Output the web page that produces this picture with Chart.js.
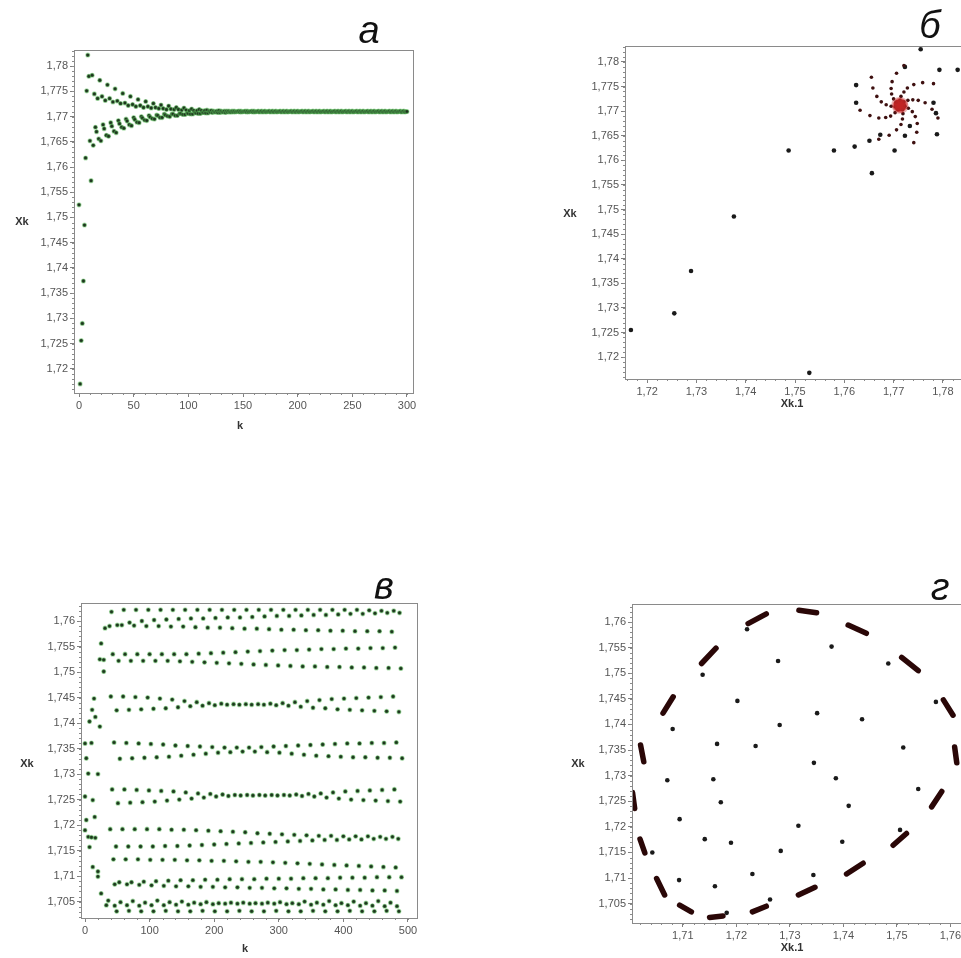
<!DOCTYPE html>
<html>
<head>
<meta charset="utf-8">
<script src="https://cdn.jsdelivr.net/npm/chart.js@4.4.1/dist/chart.umd.min.js"></script>
<style>
  html, body { margin: 0; padding: 0; background: #fff; overflow: hidden; }
  body { width: 961px; height: 958px; position: relative; font-family: "Liberation Sans", Arial, sans-serif; }
  .panel { position: absolute; }
  .panel canvas { position: absolute; left: 0; top: 0; }
  .tag { position: absolute; font-size: 38px; font-style: italic; line-height: 38px; color: #111; transform: translateX(-50%); }
  .lab { position: absolute; font-size: 11px; font-weight: bold; color: #333; transform: translate(-50%, -50%); white-space: nowrap; }
</style>
</head>
<body>
<div class="panel" style="left:0;top:0;width:430px;height:440px"><canvas id="cA" width="430" height="440"></canvas></div>
<div class="panel" style="left:560px;top:0;width:420px;height:440px"><canvas id="cB" width="420" height="440"></canvas></div>
<div class="panel" style="left:0;top:560px;width:430px;height:398px"><canvas id="cV" width="430" height="398"></canvas></div>
<div class="panel" style="left:560px;top:560px;width:420px;height:398px"><canvas id="cG" width="420" height="398"></canvas></div>

<div class="tag" style="left:369px;top:11px">а</div>
<div class="tag" style="left:930px;top:6px">б</div>
<div class="tag" style="left:384px;top:567px">в</div>
<div class="tag" style="left:940px;top:568px">г</div>

<div class="lab" style="left:22px;top:221px">Xk</div>
<div class="lab" style="left:240px;top:425px">k</div>
<div class="lab" style="left:570px;top:213px">Xk</div>
<div class="lab" style="left:792px;top:403px">Xk.1</div>
<div class="lab" style="left:27px;top:763px">Xk</div>
<div class="lab" style="left:245px;top:948px">k</div>
<div class="lab" style="left:578px;top:763px">Xk</div>
<div class="lab" style="left:792px;top:947px">Xk.1</div>

<script>
// panel а: Xk for k = 0..300 (index is k)
const xk = [
  1.7525, 1.7170, 1.7256, 1.7290, 1.7374, 1.7485, 1.7618, 1.7751, 1.7822, 1.7780,
  1.7652, 1.7573, 1.7782, 1.7643, 1.7745, 1.7679, 1.7670, 1.7736, 1.7656, 1.7772,
  1.7652, 1.7740, 1.7684, 1.7676, 1.7732, 1.7663, 1.7763, 1.7661, 1.7736, 1.7688,
  1.7681, 1.7729, 1.7671, 1.7755, 1.7668, 1.7731, 1.7692, 1.7686, 1.7726, 1.7679,
  1.7746, 1.7677, 1.7727, 1.7695, 1.7691, 1.7722, 1.7684, 1.7740, 1.7682, 1.7724,
  1.7698, 1.7694, 1.7720, 1.7689, 1.7734, 1.7688, 1.7722, 1.7700, 1.7697, 1.7718,
  1.7693, 1.7730, 1.7692, 1.7720, 1.7702, 1.7699, 1.7717, 1.7696, 1.7726, 1.7695,
  1.7718, 1.7703, 1.7702, 1.7716, 1.7698, 1.7723, 1.7698, 1.7716, 1.7705, 1.7703,
  1.7714, 1.7701, 1.7721, 1.7700, 1.7715, 1.7705, 1.7705, 1.7714, 1.7702, 1.7718,
  1.7702, 1.7714, 1.7706, 1.7706, 1.7713, 1.7704, 1.7717, 1.7704, 1.7713, 1.7707,
  1.7706, 1.7712, 1.7705, 1.7715, 1.7705, 1.7712, 1.7708, 1.7707, 1.7712, 1.7706,
  1.7714, 1.7706, 1.7712, 1.7708, 1.7708, 1.7712, 1.7707, 1.7713, 1.7707, 1.7711,
  1.7709, 1.7712, 1.7708, 1.7711, 1.7709, 1.7709, 1.7711, 1.7708, 1.7712, 1.7708,
  1.7711, 1.7709, 1.7709, 1.7711, 1.7708, 1.7711, 1.7709, 1.7711, 1.7709, 1.7709,
  1.7711, 1.7709, 1.7711, 1.7709, 1.7710, 1.7710, 1.7711, 1.7709, 1.7711, 1.7709,
  1.7710, 1.7710, 1.7711, 1.7709, 1.7711, 1.7709, 1.7710, 1.7710, 1.7711, 1.7709,
  1.7711, 1.7709, 1.7710, 1.7710, 1.7711, 1.7709, 1.7710, 1.7711, 1.7709, 1.7710,
  1.7711, 1.7709, 1.7710, 1.7710, 1.7711, 1.7709, 1.7710, 1.7711, 1.7709, 1.7710,
  1.7711, 1.7709, 1.7710, 1.7710, 1.7711, 1.7709, 1.7710, 1.7711, 1.7709, 1.7710,
  1.7711, 1.7709, 1.7710, 1.7710, 1.7711, 1.7709, 1.7710, 1.7711, 1.7709, 1.7710,
  1.7711, 1.7709, 1.7710, 1.7710, 1.7711, 1.7709, 1.7710, 1.7711, 1.7709, 1.7710,
  1.7711, 1.7709, 1.7710, 1.7710, 1.7711, 1.7709, 1.7710, 1.7711, 1.7709, 1.7710,
  1.7711, 1.7709, 1.7710, 1.7710, 1.7711, 1.7709, 1.7710, 1.7711, 1.7709, 1.7710,
  1.7711, 1.7709, 1.7710, 1.7710, 1.7711, 1.7709, 1.7710, 1.7711, 1.7709, 1.7710,
  1.7711, 1.7709, 1.7710, 1.7710, 1.7711, 1.7709, 1.7710, 1.7711, 1.7709, 1.7710,
  1.7711, 1.7709, 1.7710, 1.7710, 1.7711, 1.7709, 1.7710, 1.7711, 1.7709, 1.7710,
  1.7711, 1.7709, 1.7710, 1.7710, 1.7711, 1.7709, 1.7710, 1.7711, 1.7709, 1.7710,
  1.7711, 1.7709, 1.7710, 1.7710, 1.7711, 1.7709, 1.7710, 1.7711, 1.7709, 1.7710,
  1.7711, 1.7709, 1.7710, 1.7710, 1.7711, 1.7709, 1.7710, 1.7711, 1.7709, 1.7710,
  1.7711, 1.7709, 1.7710, 1.7710, 1.7711, 1.7709, 1.7710, 1.7711, 1.7709, 1.7710,
  1.7710
];

// panel б: Xk against Xk-1, loose points
const bx = [1.7167, 1.7255, 1.7289, 1.7376, 1.7487, 1.7529, 1.7579, 1.7621, 1.7656, 1.7651, 1.7673, 1.7702,
  1.7723, 1.7733, 1.7788, 1.7624, 1.7624, 1.7755, 1.7723, 1.7793, 1.7830, 1.7786, 1.7781];
const by = [1.7255, 1.7289, 1.7375, 1.7486, 1.7620, 1.7168, 1.7620, 1.7628, 1.7574, 1.7640, 1.7652, 1.7620,
  1.7650, 1.7670, 1.7653, 1.7753, 1.7717, 1.7826, 1.7790, 1.7784, 1.7784, 1.7696, 1.7717];
// spiral arms
const armX = [
  1.7632, 1.7652, 1.7670, 1.7684, 1.7694, 1.7703, 1.7709,
  1.7670, 1.7691, 1.7706, 1.7715, 1.7718, 1.7719, 1.7718,
  1.7741, 1.7747, 1.7748, 1.7744, 1.7738, 1.7730, 1.7723,
  1.7790, 1.7778, 1.7764, 1.7750, 1.7739, 1.7729, 1.7721,
  1.7781, 1.7759, 1.7741, 1.7728, 1.7721, 1.7715, 1.7713,
  1.7721, 1.7706, 1.7697, 1.7695, 1.7696, 1.7700, 1.7705,
  1.7655, 1.7658, 1.7666, 1.7675, 1.7685, 1.7695, 1.7703
];
const armY = [
  1.7702, 1.7691, 1.7686, 1.7687, 1.7690, 1.7697, 1.7703,
  1.7643, 1.7651, 1.7662, 1.7673, 1.7684, 1.7695, 1.7703,
  1.7636, 1.7657, 1.7675, 1.7689, 1.7699, 1.7706, 1.7710,
  1.7686, 1.7704, 1.7717, 1.7722, 1.7723, 1.7722, 1.7719,
  1.7756, 1.7758, 1.7754, 1.7747, 1.7739, 1.7730, 1.7722,
  1.7793, 1.7777, 1.7760, 1.7746, 1.7735, 1.7725, 1.7718,
  1.7769, 1.7747, 1.7730, 1.7719, 1.7713, 1.7710, 1.7709
];
const coreX = [1.7713, 1.7716, 1.7710, 1.7711, 1.7715];
const coreY = [1.7712, 1.7710, 1.7714, 1.7709, 1.7714];

// panel в: rows of the quasi-periodic orbit, one value per visit
const row1 = [1.7618, 1.7622, 1.7622, 1.7622, 1.7622, 1.7622, 1.7622, 1.7622, 1.7622, 1.7622, 1.7622, 1.7622, 1.7622, 1.7622, 1.7622, 1.7622, 1.7622, 1.7622, 1.7622, 1.7622, 1.7622, 1.7621, 1.7620, 1.7620];
const row2 = [1.7592, 1.7597, 1.7600, 1.7602, 1.7603, 1.7604, 1.7605, 1.7605, 1.7606, 1.7607, 1.7607, 1.7608, 1.7609, 1.7610, 1.7610, 1.7611, 1.7612, 1.7612, 1.7613, 1.7614, 1.7614, 1.7615, 1.7616, 1.7616];
const row3 = [1.7590, 1.7592, 1.7591, 1.7590, 1.7590, 1.7589, 1.7589, 1.7588, 1.7587, 1.7587, 1.7586, 1.7585, 1.7585, 1.7584, 1.7583, 1.7583, 1.7582, 1.7582, 1.7581, 1.7581, 1.7580, 1.7580, 1.7580, 1.7579];
const row4 = [1.7535, 1.7535, 1.7535, 1.7535, 1.7535, 1.7535, 1.7535, 1.7536, 1.7537, 1.7538, 1.7539, 1.7540, 1.7541, 1.7542, 1.7543, 1.7543, 1.7544, 1.7545, 1.7545, 1.7546, 1.7546, 1.7547, 1.7547, 1.7548];
const row5 = [1.7522, 1.7522, 1.7522, 1.7522, 1.7522, 1.7521, 1.7520, 1.7519, 1.7518, 1.7517, 1.7516, 1.7515, 1.7514, 1.7513, 1.7512, 1.7511, 1.7511, 1.7510, 1.7510, 1.7509, 1.7509, 1.7508, 1.7508, 1.7507];
const row6 = [1.7452, 1.7452, 1.7451, 1.7450, 1.7448, 1.7446, 1.7443, 1.7441, 1.7439, 1.7438, 1.7437, 1.7437, 1.7437, 1.7438, 1.7439, 1.7441, 1.7443, 1.7445, 1.7447, 1.7448, 1.7449, 1.7450, 1.7451, 1.7452];
const row7 = [1.7425, 1.7426, 1.7427, 1.7428, 1.7429, 1.7431, 1.7433, 1.7434, 1.7435, 1.7436, 1.7436, 1.7436, 1.7436, 1.7435, 1.7434, 1.7432, 1.7430, 1.7429, 1.7427, 1.7426, 1.7425, 1.7424, 1.7423, 1.7422];
const row8 = [1.7362, 1.7361, 1.7360, 1.7359, 1.7358, 1.7356, 1.7355, 1.7354, 1.7353, 1.7352, 1.7352, 1.7352, 1.7353, 1.7354, 1.7355, 1.7356, 1.7357, 1.7358, 1.7359, 1.7360, 1.7360, 1.7361, 1.7361, 1.7362];
const row9 = [1.7330, 1.7331, 1.7332, 1.7333, 1.7334, 1.7336, 1.7338, 1.7340, 1.7342, 1.7343, 1.7344, 1.7344, 1.7343, 1.7342, 1.7340, 1.7338, 1.7336, 1.7335, 1.7334, 1.7333, 1.7333, 1.7332, 1.7332, 1.7331];
const row10 = [1.7270, 1.7270, 1.7269, 1.7268, 1.7267, 1.7266, 1.7264, 1.7262, 1.7261, 1.7260, 1.7259, 1.7259, 1.7259, 1.7259, 1.7259, 1.7260, 1.7261, 1.7262, 1.7264, 1.7266, 1.7267, 1.7268, 1.7269, 1.7270];
const row11 = [1.7243, 1.7244, 1.7245, 1.7246, 1.7248, 1.7250, 1.7252, 1.7254, 1.7256, 1.7257, 1.7258, 1.7258, 1.7258, 1.7258, 1.7258, 1.7257, 1.7256, 1.7254, 1.7252, 1.7250, 1.7249, 1.7248, 1.7247, 1.7246];
const row12 = [1.7192, 1.7192, 1.7192, 1.7192, 1.7192, 1.7191, 1.7191, 1.7190, 1.7189, 1.7188, 1.7187, 1.7186, 1.7184, 1.7183, 1.7182, 1.7181, 1.7180, 1.7179, 1.7179, 1.7178, 1.7178, 1.7178, 1.7177, 1.7177];
const row13 = [1.7158, 1.7158, 1.7158, 1.7158, 1.7159, 1.7159, 1.7160, 1.7161, 1.7162, 1.7163, 1.7164, 1.7165, 1.7166, 1.7167, 1.7168, 1.7169, 1.7170, 1.7171, 1.7171, 1.7172, 1.7172, 1.7173, 1.7173, 1.7173];
const row14 = [1.7133, 1.7133, 1.7133, 1.7132, 1.7132, 1.7132, 1.7131, 1.7131, 1.7130, 1.7130, 1.7129, 1.7128, 1.7128, 1.7127, 1.7126, 1.7125, 1.7124, 1.7123, 1.7122, 1.7121, 1.7120, 1.7119, 1.7118, 1.7117];
const row15 = [1.7088, 1.7088, 1.7089, 1.7090, 1.7091, 1.7092, 1.7092, 1.7093, 1.7093, 1.7094, 1.7094, 1.7094, 1.7095, 1.7095, 1.7095, 1.7096, 1.7096, 1.7096, 1.7097, 1.7097, 1.7097, 1.7098, 1.7098, 1.7098];
const row16 = [1.7084, 1.7084, 1.7083, 1.7082, 1.7081, 1.7080, 1.7080, 1.7079, 1.7079, 1.7078, 1.7078, 1.7077, 1.7077, 1.7076, 1.7076, 1.7075, 1.7075, 1.7074, 1.7074, 1.7073, 1.7073, 1.7072, 1.7072, 1.7071];
const row17 = [1.7052, 1.7049, 1.7051, 1.7048, 1.7052, 1.7049, 1.7050, 1.7048, 1.7049, 1.7047, 1.7048, 1.7048, 1.7047, 1.7048, 1.7049, 1.7047, 1.7050, 1.7048, 1.7051, 1.7047, 1.7050, 1.7047, 1.7051, 1.7048];
const row18 = [1.7042, 1.7043, 1.7042, 1.7043, 1.7043, 1.7044, 1.7044, 1.7045, 1.7045, 1.7046, 1.7046, 1.7046, 1.7046, 1.7046, 1.7045, 1.7045, 1.7044, 1.7044, 1.7043, 1.7043, 1.7042, 1.7042, 1.7041, 1.7041];
const row19 = [1.7031, 1.7032, 1.7031, 1.7031, 1.7032, 1.7031, 1.7031, 1.7032, 1.7031, 1.7031, 1.7032, 1.7031, 1.7031, 1.7032, 1.7031, 1.7031, 1.7032, 1.7031, 1.7031, 1.7032, 1.7031, 1.7031, 1.7032, 1.7031];
// first k of each row, and the k offsets of its visits
const rowStart = [41, 50, 38, 43, 52, 40, 49, 45, 54, 42, 51, 39, 48, 44, 53, 46, 36, 46, 49];
const visitK = [0, 19, 38, 57, 76, 95, 114, 133, 152, 171, 190, 209, 228, 247, 266, 285, 304, 323, 342, 361, 380, 399, 418, 437];
// transient before the orbit settles
const vtK = [0, 0, 0, 2, 2, 5, 5, 7, 7, 10, 10, 11, 12, 12, 14, 15, 16, 16, 20, 20, 20, 23, 23, 25, 25, 29, 29, 31, 33];
const vtY = [1.7360, 1.7256, 1.7190, 1.7331, 1.7210, 1.7301, 1.7177, 1.7403, 1.7157, 1.7361, 1.7176, 1.7426, 1.7249, 1.7118,
  1.7448, 1.7216, 1.7412, 1.7175, 1.7300, 1.7109, 1.7099, 1.7525, 1.7393, 1.7556, 1.7066, 1.7524, 1.7501, 1.7586, 1.7043];

// panel г: dashes of the invariant circle (start / end)
const gx0 = [1.7222, 1.7317, 1.7409, 1.7509, 1.7587, 1.7608, 1.7584, 1.7518, 1.7437, 1.7347, 1.7256, 1.7175, 1.7116, 1.7066, 1.7029, 1.7010, 1.7027, 1.7082, 1.7162];
const gy0 = [1.7597, 1.7623, 1.7594, 1.7531, 1.7448, 1.7356, 1.7269, 1.7187, 1.7129, 1.7082, 1.7045, 1.7026, 1.7034, 1.7067, 1.7149, 1.7236, 1.7327, 1.7454, 1.7549];
const gx1 = [1.7256, 1.7350, 1.7443, 1.7540, 1.7605, 1.7612, 1.7565, 1.7493, 1.7406, 1.7316, 1.7230, 1.7150, 1.7094, 1.7051, 1.7020, 1.7006, 1.7021, 1.7063, 1.7135];
const gy1 = [1.7616, 1.7618, 1.7578, 1.7505, 1.7418, 1.7325, 1.7239, 1.7164, 1.7108, 1.7067, 1.7034, 1.7023, 1.7047, 1.7099, 1.7176, 1.7267, 1.7360, 1.7422, 1.7519];
// inner points
const gdx = [1.7220, 1.7378, 1.7278, 1.7484, 1.7137, 1.7573, 1.7202, 1.7351, 1.7435, 1.7081, 1.7281, 1.7164, 1.7236, 1.7512,
  1.7345, 1.7071, 1.7157, 1.7386, 1.7540, 1.7171, 1.7410, 1.7094, 1.7316, 1.7506, 1.7141, 1.7190, 1.7398, 1.7283, 1.7043,
  1.7093, 1.7230, 1.7344, 1.7160, 1.7263, 1.7182];
const gdy = [1.7586, 1.7552, 1.7524, 1.7519, 1.7497, 1.7444, 1.7446, 1.7422, 1.7410, 1.7391, 1.7399, 1.7362, 1.7358, 1.7355,
  1.7325, 1.7291, 1.7293, 1.7295, 1.7274, 1.7248, 1.7241, 1.7215, 1.7202, 1.7194, 1.7176, 1.7169, 1.7171, 1.7153, 1.7150,
  1.7096, 1.7108, 1.7106, 1.7084, 1.7058, 1.7032];

// build point lists
const aPts = xk.map((v, k) => ({ x: k, y: v }));
const bPts = bx.map((v, i) => ({ x: v, y: by[i] }));
const armPts = armX.map((v, i) => ({ x: v, y: armY[i] }));
const corePts = coreX.map((v, i) => ({ x: v, y: coreY[i] }));
const vRows = [row1, row2, row3, row4, row5, row6, row7, row8, row9, row10, row11, row12, row13, row14, row15, row16, row17, row18, row19];
const vPts = vtK.map((k, i) => ({ x: k, y: vtY[i] }));
vRows.forEach((row, r) => row.forEach((y, i) => vPts.push({ x: rowStart[r] + visitK[i], y: y })));
const gPts = gdx.map((v, i) => ({ x: v, y: gdy[i] }));

const fmt = v => String(+(+v).toFixed(4)).replace('.', ',');

function axis(min, max, step, size, isY) {
  return {
    type: 'linear', min: min, max: max,
    ticks: {
      stepSize: step, includeBounds: false, autoSkip: false, maxRotation: 0,
      color: '#555', padding: 2, font: { size: 11, family: 'Liberation Sans' }, callback: fmt
    },
    grid: { drawOnChartArea: false, tickLength: 4, color: '#808080' },
    border: { color: '#8a8a8a' },
    afterFit: s => { if (isY) s.width = size; else s.height = size; }
  };
}

// box around the plot and small minor ticks on the axes
const frame = {
  id: 'frame',
  afterDraw(chart, args, o) {
    const { ctx, chartArea: a, scales } = chart;
    ctx.save();
    ctx.strokeStyle = '#8a8a8a';
    ctx.lineWidth = 1;
    ctx.strokeRect(a.left + 0.5, a.top + 0.5, a.right - a.left, a.bottom - a.top);
    ctx.beginPath();
    for (let v = Math.ceil(scales.x.min / o.mx) * o.mx; v <= scales.x.max; v += o.mx) {
      const p = Math.round(scales.x.getPixelForValue(v)) + 0.5;
      ctx.moveTo(p, a.bottom); ctx.lineTo(p, a.bottom + 2);
    }
    for (let v = Math.ceil(scales.y.min / o.my) * o.my; v <= scales.y.max; v += o.my) {
      const p = Math.round(scales.y.getPixelForValue(v)) + 0.5;
      ctx.moveTo(a.left, p); ctx.lineTo(a.left - 2, p);
    }
    ctx.stroke();
    ctx.restore();
  }
};

function makeChart(id, datasets, x, y, pad, minor) {
  return new Chart(document.getElementById(id), {
    type: 'scatter',
    data: { datasets: datasets },
    options: {
      responsive: false, animation: false, events: [],
      layout: { padding: pad },
      plugins: { legend: { display: false }, tooltip: { enabled: false }, frame: minor },
      scales: { x: x, y: y }
    },
    plugins: [frame]
  });
}

const green = { pointRadius: 1.9, pointBorderWidth: 1.3, pointBackgroundColor: '#1f331f', pointBorderColor: 'rgba(90,190,90,0.45)' };

// а
makeChart('cA', [Object.assign({ data: aPts }, green)],
  axis(-4.6, 305.5, 50, 47, false), axis(1.7152, 1.7832, 0.005, 74, true),
  { top: 50, right: 17, left: 0, bottom: 0 }, { mx: 10, my: 0.001 });

// б
makeChart('cB', [
    { data: corePts, pointRadius: 7, pointBorderWidth: 0, pointBackgroundColor: 'rgba(200,40,40,0.35)' },
    { data: armPts, pointRadius: 1.8, pointBorderWidth: 0, pointBackgroundColor: '#3e1010' },
    { data: corePts, pointRadius: 4.5, pointBorderWidth: 0, pointBackgroundColor: '#8c0b0b' },
    { data: bPts, pointRadius: 2.3, pointBorderWidth: 0, pointBackgroundColor: '#1a1a1a' }
  ],
  axis(1.7155, 1.7851, 0.01, 61, false), axis(1.71555, 1.78325, 0.005, 65, true),
  { top: 46, right: 12, left: 0, bottom: 0 }, { mx: 0.002, my: 0.001 });

// в
makeChart('cV', [Object.assign({ data: vPts }, green)],
  axis(-6.2, 514, 100, 40, false), axis(1.70179, 1.76353, 0.005, 81, true),
  { top: 43, right: 13, left: 0, bottom: 0 }, { mx: 20, my: 0.001 });

// г
const gSets = [];
gx0.forEach((v, i) => {
  const seg = [{ x: v, y: gy0[i] }, { x: gx1[i], y: gy1[i] }];
  gSets.push({ data: seg, showLine: true, borderColor: '#2a0707', borderWidth: 5.5, borderCapStyle: 'round', pointRadius: 0 });
  gSets.push({ data: seg, showLine: true, borderColor: '#861414', borderWidth: 3.5, borderCapStyle: 'round', pointRadius: 0 });
});
gSets.push({ data: gPts, pointRadius: 2.3, pointBorderWidth: 0, pointBackgroundColor: '#1a1a1a' });
makeChart('cG', gSets,
  axis(1.7005, 1.7633, 0.01, 35, false), axis(1.70122, 1.76352, 0.005, 72, true),
  { top: 44, right: 12, left: 0, bottom: 0 }, { mx: 0.002, my: 0.001 });
</script>
</body>
</html>
